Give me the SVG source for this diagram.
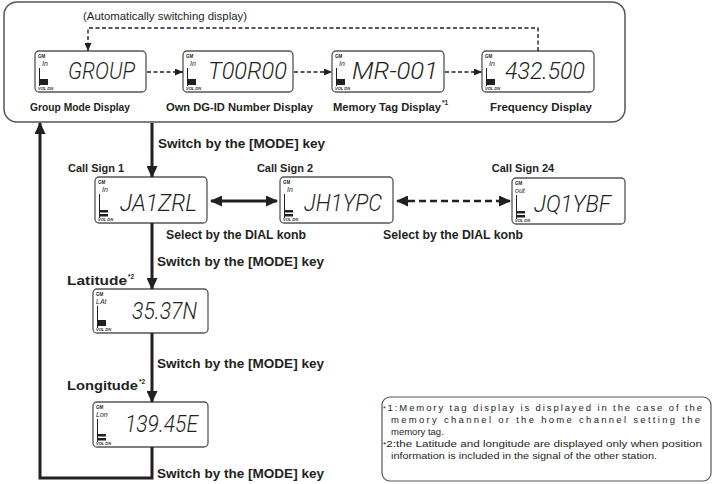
<svg xmlns="http://www.w3.org/2000/svg" width="717" height="484" viewBox="0 0 717 484">
<style>
.lbl{font-family:"Liberation Sans",Arial,sans-serif;font-weight:bold;font-size:11px;fill:#231f20}
.lbl2{font-family:"Liberation Sans",Arial,sans-serif;font-weight:bold;font-size:12.5px;fill:#231f20}
.sup{font-family:"Liberation Sans",Arial,sans-serif;font-weight:bold;font-size:6.5px;fill:#231f20}
.note{font-family:"Liberation Sans",Arial,sans-serif;font-size:9.5px;fill:#231f20}
.auto{font-family:"Liberation Sans",Arial,sans-serif;font-size:10px;fill:#231f20}
.box{fill:#fff;stroke:#555;stroke-width:1.3}
.frame{fill:none;stroke:#555;stroke-width:1.5}
.seg{font-family:Roboto,"DejaVu Sans",sans-serif;font-style:italic;font-weight:300;font-size:23px;fill:#231f20}
.mode{font-family:"Liberation Sans",sans-serif;font-style:italic;font-size:7px;fill:#231f20}
.gm{font-family:"Liberation Sans",sans-serif;font-weight:bold;font-size:4.5px;fill:#231f20}
.vol{font-family:"Liberation Sans",sans-serif;font-style:italic;font-weight:bold;font-size:4px;fill:#231f20}
.bar{stroke:#231f20;stroke-width:1;fill:none}
.thick{stroke:#231f20;stroke-width:3;fill:none}
.dash{stroke:#231f20;stroke-width:1.4;fill:none;stroke-dasharray:4 2.5}
.dashT{stroke:#231f20;stroke-width:2.6;fill:none;stroke-dasharray:7 4}
</style>
<defs>
<marker id="big" markerUnits="userSpaceOnUse" markerWidth="12" markerHeight="11" refX="11" refY="5.5" orient="auto-start-reverse" viewBox="0 0 12 11">
<path d="M0,0 L12,5.5 L0,11 z" fill="#231f20"/>
</marker>
<marker id="small" markerUnits="userSpaceOnUse" markerWidth="8" markerHeight="7" refX="8" refY="3.5" orient="auto-start-reverse" viewBox="0 0 8 7">
<path d="M0,0 L8,3.5 L0,7 z" fill="#231f20"/>
</marker>
</defs>

<rect class="frame" x="4" y="2" width="621" height="120" rx="13"/>
<text class="auto" x="83" y="20" textLength="164" lengthAdjust="spacingAndGlyphs">(Automatically switching display)</text>

<g id="group-mode">
<g transform="translate(35,51)">
<rect class="box" width="111" height="41" rx="4"/>
<text class="gm" x="3" y="7">GM</text><text class="mode" x="7" y="15">In</text>
<path class="bar" d="M4.5,17 V35"/><rect x="5" y="28" width="8" height="6" fill="#231f20"/>
<text class="vol" x="3" y="39">VOL DN</text>
<text class="seg" x="33" y="28" textLength="67" lengthAdjust="spacingAndGlyphs">GROUP</text>
</g>
<text class="lbl" x="30" y="111" textLength="100" lengthAdjust="spacingAndGlyphs">Group Mode Display</text>
</g>

<g id="own-dgid">
<g transform="translate(183,51)">
<rect class="box" width="110" height="41" rx="4"/>
<text class="gm" x="3" y="7">GM</text><text class="mode" x="7" y="15">In</text>
<path class="bar" d="M4.5,17 V35"/><rect x="5" y="28" width="8" height="6" fill="#231f20"/>
<text class="vol" x="3" y="39">VOL DN</text>
<text class="seg" x="25" y="28" textLength="79" lengthAdjust="spacingAndGlyphs">T00R00</text>
</g>
<text class="lbl" x="166" y="111" textLength="147" lengthAdjust="spacingAndGlyphs">Own DG-ID Number Display</text>
</g>

<g id="memory-tag">
<g transform="translate(332,51)">
<rect class="box" width="112" height="41" rx="4"/>
<text class="gm" x="3" y="7">GM</text><text class="mode" x="7" y="15">In</text>
<path class="bar" d="M4.5,17 V35"/><rect x="5" y="28" width="8" height="6" fill="#231f20"/>
<text class="vol" x="3" y="39">VOL DN</text>
<text class="seg" x="20" y="28" textLength="86" lengthAdjust="spacingAndGlyphs">MR-001</text>
</g>
<text class="lbl" x="333" y="111" textLength="108" lengthAdjust="spacingAndGlyphs">Memory Tag Display</text><text class="sup" x="442" y="105">*1</text>
</g>

<g id="frequency">
<g transform="translate(482,51)">
<rect class="box" width="112" height="41" rx="4"/>
<text class="gm" x="3" y="7">GM</text><text class="mode" x="7" y="15">In</text>
<path class="bar" d="M4.5,17 V35"/><rect x="5" y="28" width="8" height="6" fill="#231f20"/>
<text class="vol" x="3" y="39">VOL DN</text>
<text class="seg" x="23" y="28" textLength="80" lengthAdjust="spacingAndGlyphs">432.500</text>
</g>
<text class="lbl" x="490" y="111" textLength="102" lengthAdjust="spacingAndGlyphs">Frequency Display</text>
</g>

<g id="call-sign-1">
<text class="lbl" x="68" y="172">Call Sign 1</text>
<g transform="translate(95,177)">
<rect class="box" width="112" height="46" rx="4"/>
<text class="gm" x="3" y="7">GM</text><text class="mode" x="7" y="15">In</text>
<path class="bar" d="M4.5,17 V41"/><rect x="5" y="33" width="8" height="2.5" fill="#231f20"/><rect x="5" y="37" width="8" height="2.5" fill="#231f20"/>
<text class="vol" x="3" y="44">VOL DN</text>
<text class="seg" x="25" y="34" textLength="77" lengthAdjust="spacingAndGlyphs">JA1ZRL</text>
</g>
</g>

<g id="call-sign-2">
<text class="lbl" x="285" y="172" text-anchor="middle">Call Sign 2</text>
<g transform="translate(280,177)">
<rect class="box" width="113" height="46" rx="4"/>
<text class="gm" x="3" y="7">GM</text><text class="mode" x="7" y="15">In</text>
<path class="bar" d="M4.5,17 V41"/><rect x="5" y="33" width="8" height="2.5" fill="#231f20"/><rect x="5" y="37" width="8" height="2.5" fill="#231f20"/>
<text class="vol" x="3" y="44">VOL DN</text>
<text class="seg" x="24" y="34" textLength="78" lengthAdjust="spacingAndGlyphs">JH1YPC</text>
</g>
</g>

<g id="call-sign-24">
<text class="lbl" x="523" y="172" text-anchor="middle" font-size="12">Call Sign 24</text>
<g transform="translate(512,178)">
<rect class="box" width="113" height="46" rx="4"/>
<text class="gm" x="3" y="7">GM</text><text class="mode" x="3" y="15">out</text>
<path class="bar" d="M4.5,17 V41"/><rect x="5" y="33" width="8" height="2.5" fill="#231f20"/><rect x="5" y="37" width="8" height="2.5" fill="#231f20"/>
<text class="vol" x="3" y="44">VOL DN</text>
<text class="seg" x="22" y="34" textLength="77" lengthAdjust="spacingAndGlyphs">JQ1YBF</text>
</g>
</g>

<g id="latitude">
<text class="lbl2" x="67" y="285" textLength="60" lengthAdjust="spacingAndGlyphs">Latitude</text><text class="sup" x="128" y="279">*2</text>
<g transform="translate(93,289)">
<rect class="box" width="115" height="44" rx="4"/>
<text class="gm" x="3" y="7">GM</text><text class="mode" x="3" y="15">LAt</text>
<path class="bar" d="M4.5,17 V39"/><rect x="5" y="31" width="8" height="6" fill="#231f20"/>
<text class="vol" x="3" y="42">VOL DN</text>
<text class="seg" x="39" y="30" textLength="65" lengthAdjust="spacingAndGlyphs">35.37N</text>
</g>
</g>

<g id="longitude">
<text class="lbl2" x="67" y="390" textLength="71" lengthAdjust="spacingAndGlyphs">Longitude</text><text class="sup" x="139" y="384">*2</text>
<g transform="translate(93,402)">
<rect class="box" width="115" height="45" rx="4"/>
<text class="gm" x="3" y="7">GM</text><text class="mode" x="3" y="15">Lon</text>
<path class="bar" d="M4.5,17 V40"/><rect x="5" y="32" width="8" height="2.5" fill="#231f20"/><rect x="5" y="36" width="8" height="2.5" fill="#231f20"/>
<text class="vol" x="3" y="43">VOL DN</text>
<text class="seg" x="32" y="30" textLength="73" lengthAdjust="spacingAndGlyphs">139.45E</text>
</g>
</g>

<g id="connector-labels">
<text class="lbl2" x="158" y="148" textLength="167" lengthAdjust="spacingAndGlyphs">Switch by the [MODE] key</text>
<text class="lbl2" x="166" y="239" textLength="140" lengthAdjust="spacingAndGlyphs">Select by the DIAL konb</text>
<text class="lbl2" x="383" y="239" textLength="140" lengthAdjust="spacingAndGlyphs">Select by the DIAL konb</text>
<text class="lbl2" x="157" y="266" textLength="167" lengthAdjust="spacingAndGlyphs">Switch by the [MODE] key</text>
<text class="lbl2" x="157" y="368" textLength="167" lengthAdjust="spacingAndGlyphs">Switch by the [MODE] key</text>
<text class="lbl2" x="157" y="478" textLength="167" lengthAdjust="spacingAndGlyphs">Switch by the [MODE] key</text>
</g>

<g id="connectors">
<path class="dash" d="M538,51 V28 H88 V51" marker-end="url(#small)"/>
<path class="dash" d="M147,72 H183" marker-end="url(#small)"/>
<path class="dash" d="M294,72 H332" marker-end="url(#small)"/>
<path class="dash" d="M445,72 H482" marker-end="url(#small)"/>
<path class="thick" d="M152,123 V177" marker-end="url(#big)"/>
<path class="thick" d="M152,223 V289" marker-end="url(#big)"/>
<path class="thick" d="M152,333 V402" marker-end="url(#big)"/>
<path class="thick" d="M152,447 V478 H40 V123" marker-end="url(#big)"/>
<path class="thick" d="M211,201 H277" marker-start="url(#big)" marker-end="url(#big)"/>
<path class="dashT" d="M397,201 H510" marker-start="url(#big)" marker-end="url(#big)"/>
</g>

<g id="notes">
<rect x="382" y="397" width="329" height="84" rx="8" fill="#fff" stroke="#555" stroke-width="1.2"/>
<text class="note" x="383" y="411" textLength="319" lengthAdjust="spacing"><tspan font-size="7">*</tspan>1:Memory tag display is displayed in the case of the</text>
<text class="note" x="391" y="423" textLength="309" lengthAdjust="spacing">memory channel or the home channel setting the</text>
<text class="note" x="391" y="435">memory tag.</text>
<text class="note" x="383" y="447" textLength="319" lengthAdjust="spacingAndGlyphs"><tspan font-size="7">*</tspan>2:the Latitude and longitude are displayed only when position</text>
<text class="note" x="391" y="459" textLength="266" lengthAdjust="spacingAndGlyphs">information is included in the signal of the other station.</text>
</g>
</svg>
